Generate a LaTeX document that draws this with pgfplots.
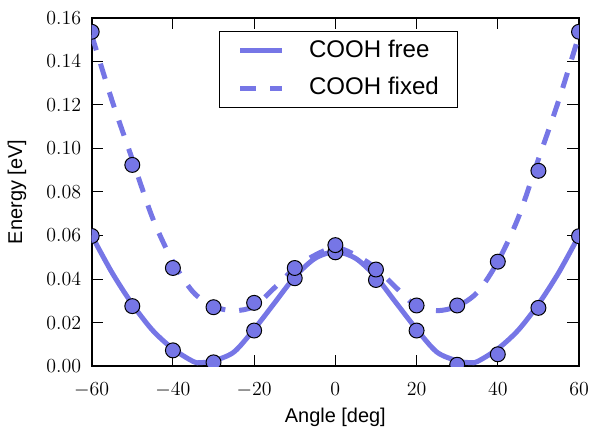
\documentclass[border=0pt]{standalone}
\usepackage{fontspec}
\setmainfont{Liberation Sans}
\usepackage{pgfplots}
\pgfplotsset{compat=1.18}
\definecolor{cblue}{RGB}{118,118,230}

\begin{document}
\begin{tikzpicture}
\path (-55.2pt,-37.4pt) rectangle (300.6pt,220.5pt);
\begin{axis}[
    at={(0pt,0pt)}, anchor=south west,
    scale only axis,
    width=293.4pt, height=209.9pt,
    xmin=-60, xmax=60,
    ymin=0, ymax=0.16,
    xtick={-60,-40,-20,0,20,40,60},
    ytick={0,0.02,0.04,0.06,0.08,0.10,0.12,0.14,0.16},
    scaled y ticks=false,
    yticklabel style={/pgf/number format/fixed, /pgf/number format/fixed zerofill,
        /pgf/number format/precision=2, anchor=east, inner sep=0pt, xshift=-6.2pt},
    xticklabel style={anchor=north, inner sep=0pt, yshift=-9.5pt},
    tick align=inside,
    major tick length=7pt,
    tick style={black, line width=0.6pt},
    axis line style={line width=1.2pt},
    tick label style={font=\fontsize{13}{15}\selectfont},
    label style={font=\fontsize{12}{14}\selectfont},
    xlabel={Angle [deg]},
    ylabel={Energy [eV]},
    xlabel style={at={(axis description cs:0.5,-0.16)}, anchor=base, inner sep=0pt},
    ylabel style={at={(axis description cs:-0.1335,0.5)}, anchor=south, inner sep=0pt},
    clip marker paths=true,
    legend cell align=left,
    legend image code/.code={\draw[#1] (0pt,0pt) -- (25pt,0pt);},
    legend style={at={(0.506,0.962)}, anchor=north, draw=black, line width=0.6pt,
        font=\fontsize{14.5}{17}\selectfont, inner xsep=11pt, inner ysep=5pt,
        row sep=9pt, column sep=15pt,
        nodes={inner sep=0pt, text height=10.5pt, text depth=3pt}},
]
% fitted curves
\addplot[cblue, line width=3pt, smooth] coordinates {
(-60,0.0600) (-55,0.0430) (-50,0.0285) (-45,0.0165) (-40,0.0080) (-35,0.0022)
(-33,0.0017) (-30,0.0025) (-25,0.0065) (-20,0.0170) (-15,0.0290) (-10,0.0410)
(-5,0.0495) (0,0.0525) (5,0.0495) (10,0.0410) (15,0.0290) (20,0.0170)
(25,0.0065) (30,0.0025) (33,0.0017) (35,0.0022) (40,0.0080) (45,0.0165)
(50,0.0285) (55,0.0430) (60,0.0600)
};
\addlegendentry{COOH free}
\addplot[cblue, line width=3pt, smooth, dash pattern=on 9.6pt off 8.4pt] coordinates {
(-60,0.152) (-55,0.122) (-50,0.095) (-45,0.068) (-40,0.048) (-35,0.034)
(-30,0.0275) (-25,0.0255) (-20,0.0275) (-15,0.036) (-10,0.045) (-5,0.051)
(0,0.0545) (5,0.051) (10,0.045) (15,0.036) (20,0.0275) (25,0.0255)
(30,0.0275) (35,0.034) (40,0.048) (45,0.068) (50,0.095) (55,0.122) (60,0.152)
};
\addlegendentry{COOH fixed}
% calculated points
\addplot[only marks, mark=*, mark size=4.5pt, mark options={fill=cblue, draw=black, line width=0.6pt}, forget plot] coordinates {
(-60,0.0598) (-50,0.0276) (-40,0.0073) (-30,0.0018) (-20,0.0164) (-10,0.0404)
(0,0.0523) (10,0.0396) (20,0.0164) (30,0.0007) (40,0.0055) (50,0.0268) (60,0.0597)
};
\addplot[only marks, mark=*, mark size=4.5pt, mark options={fill=cblue, draw=black, line width=0.6pt}, forget plot] coordinates {
(-60,0.1535) (-50,0.0924) (-40,0.0451) (-30,0.0271) (-20,0.0291) (-10,0.0451)
(0,0.0556) (10,0.0444) (20,0.0279) (30,0.0279) (40,0.0480) (50,0.0897) (60,0.1535)
};
\end{axis}
\end{tikzpicture}
\end{document}
